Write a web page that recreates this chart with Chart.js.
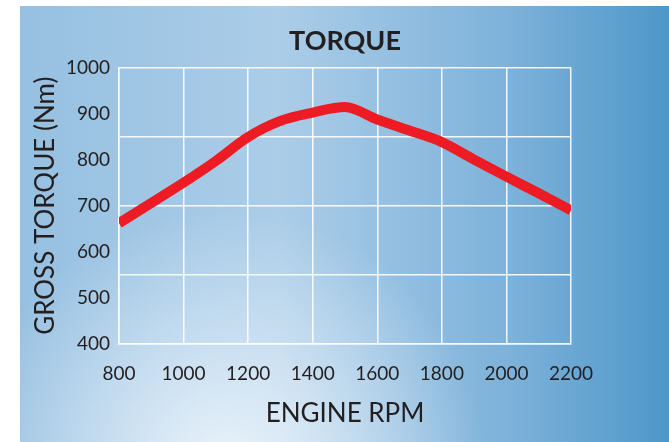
<!DOCTYPE html>
<html>
<head>
<meta charset="utf-8">
<script src="https://cdn.jsdelivr.net/npm/chart.js@4.4.1/dist/chart.umd.min.js"></script>
<style>
  html, body { margin: 0; padding: 0; background: #fff; }
  #wrap { width: 669px; height: 442px; }
</style>
</head>
<body>
<div id="wrap"><canvas id="torqueChart" width="669" height="442"></canvas></div>
<script>
const rpm = [800, 900, 1000, 1100, 1200, 1300, 1400, 1500, 1600, 1700, 1800, 1900, 2000, 2100, 2200];
const torque = [662, 706, 750, 797, 849, 884, 902, 914, 887, 863, 838, 800, 763, 727, 690];
const xTicks = [800, 1000, 1200, 1400, 1600, 1800, 2000, 2200];
const yTicks = [400, 500, 600, 700, 800, 900, 1000];
const yGridLines = [400, 550, 700, 850, 1000];

const fontName = "Lato, 'Open Sans', sans-serif";
const textColor = "#231f20";

/* Blue panel behind the chart */
const panelBg = {
  id: "panelBg",
  beforeDraw(chart) {
    const c = chart.ctx;
    c.save();
    c.fillStyle = "#fff";
    c.fillRect(0, 0, chart.width, chart.height);
    const lin = c.createLinearGradient(20, 0, 669, 0);
    lin.addColorStop(0, "#96c0e1");
    lin.addColorStop(0.4, "#abcde8");
    lin.addColorStop(0.75, "#7eb2da");
    lin.addColorStop(1, "#4e97c9");
    c.fillStyle = lin;
    c.fillRect(20, 6, 649, 436);
    const rad = c.createRadialGradient(225, 470, 10, 225, 470, 260);
    rad.addColorStop(0, "rgba(236,244,251,0.95)");
    rad.addColorStop(1, "rgba(236,244,251,0)");
    c.fillStyle = rad;
    c.fillRect(20, 6, 649, 436);
    c.restore();
  }
};

const ctx = document.getElementById("torqueChart");
new Chart(ctx, {
  type: "line",
  data: {
    datasets: [{
      data: rpm.map((r, i) => ({ x: r, y: torque[i] })),
      borderColor: "#ed1c24",
      borderWidth: 10,
      pointRadius: 0,
      cubicInterpolationMode: "monotone",
      fill: false
    }]
  },
  options: {
    responsive: false,
    animation: false,
    layout: { padding: { left: 20, right: 98, top: 0, bottom: 0 } },
    plugins: {
      legend: { display: false },
      tooltip: { enabled: false },
      title: {
        display: true,
        fullSize: false,
        text: "TORQUE",
        color: textColor,
        font: { family: fontName, size: 27, weight: "bold" },
        padding: { top: 25, bottom: 10 }
      }
    },
    scales: {
      x: {
        type: "linear",
        min: 800,
        max: 2200,
        afterBuildTicks: s => { s.ticks = xTicks.map(v => ({ value: v })); },
        afterFit: s => { s.height = 98; },
        ticks: {
          color: textColor,
          font: { family: fontName, size: 19 },
          padding: 18,
          callback: v => String(v)
        },
        grid: { color: "rgba(255,255,255,0.9)", lineWidth: 1.5, drawTicks: false },
        border: { color: "rgba(255,255,255,0.95)", width: 1.5 },
        title: {
          display: true,
          text: "ENGINE RPM",
          color: textColor,
          font: { family: fontName, size: 26 },
          padding: { top: 0, bottom: 13 }
        }
      },
      y: {
        min: 400,
        max: 1000,
        afterBuildTicks: s => {
          const vals = [...new Set(yTicks.concat(yGridLines))].sort((a, b) => a - b);
          s.ticks = vals.map(v => ({ value: v }));
        },
        afterFit: s => { s.width = 99; },
        ticks: {
          color: textColor,
          font: { family: fontName, size: 19 },
          padding: 9,
          callback: v => (yTicks.includes(v) ? String(v) : "")
        },
        grid: {
          color: c => (yGridLines.includes(c.tick.value) ? "rgba(255,255,255,0.9)" : "rgba(0,0,0,0)"),
          lineWidth: 1.5,
          drawTicks: false
        },
        border: { color: "rgba(255,255,255,0.95)", width: 1.5 },
        title: {
          display: true,
          text: "GROSS TORQUE (Nm)",
          color: textColor,
          font: { family: fontName, size: 26 },
          padding: { top: 10, bottom: 0 }
        }
      }
    }
  },
  plugins: [panelBg]
});
</script>
</body>
</html>
